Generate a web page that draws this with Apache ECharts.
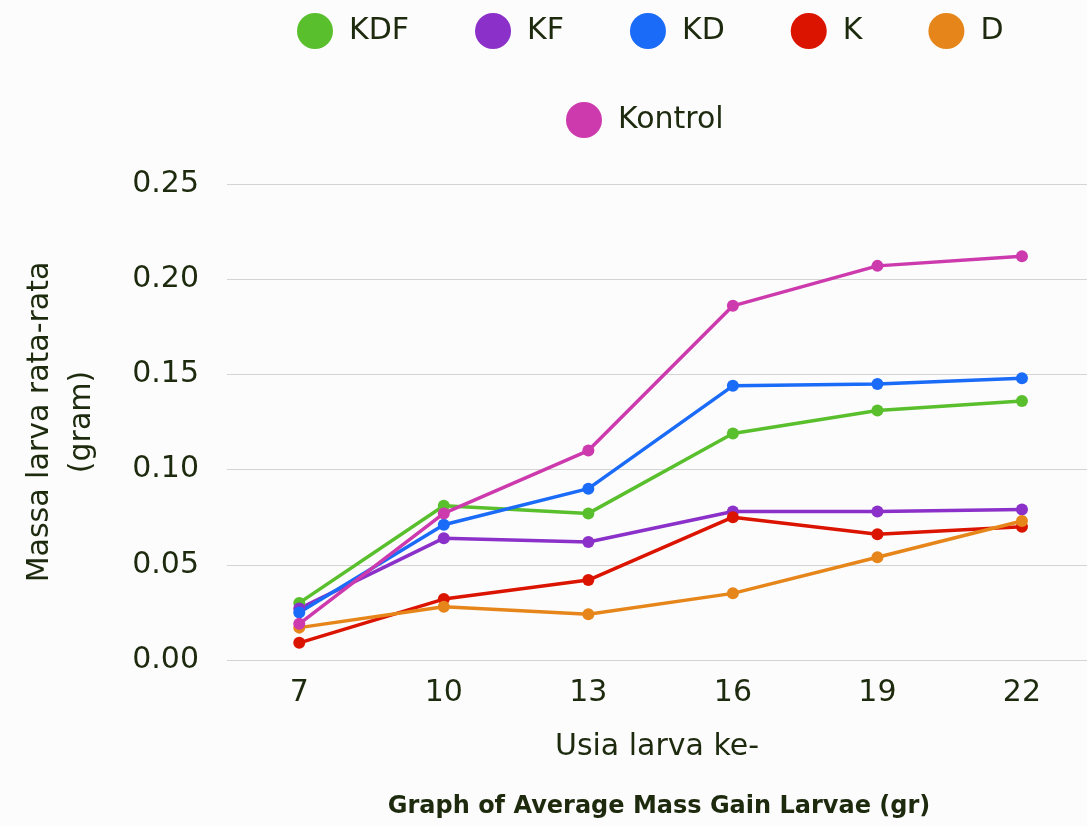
<!DOCTYPE html>
<html><head><meta charset="utf-8">
<script src="https://cdn.jsdelivr.net/npm/echarts@6/dist/echarts.min.js"></script>
<style>html,body{margin:0;padding:0;background:#fcfcfc}#c{width:1087px;height:826px}</style>
</head><body><div id="c"></div>
<script>
const categories = [7, 10, 13, 16, 19, 22];
const yTicks = [0, 0.05, 0.10, 0.15, 0.20, 0.25];
const seriesNames = ['KDF','KF','KD','K','D','Kontrol'];
const KDF = [0.030, 0.081, 0.077, 0.119, 0.131, 0.136];
const KF = [0.027, 0.064, 0.062, 0.078, 0.078, 0.079];
const KD = [0.025, 0.071, 0.090, 0.144, 0.145, 0.148];
const K = [0.009, 0.032, 0.042, 0.075, 0.066, 0.070];
const D = [0.017, 0.028, 0.024, 0.035, 0.054, 0.073];
const Kontrol = [0.019, 0.077, 0.110, 0.186, 0.207, 0.212];
const colors = ['#59bf2c', '#8b30c8', '#1a6bf7', '#db1400', '#e6861a', '#cc3aad'];
const values = [KDF, KF, KD, K, D, Kontrol];
const txt = '#1d2a0e';
const font = 'DejaVu Sans';

const chart = echarts.init(document.getElementById('c'));
const legendStyle = {
  icon: 'circle', itemWidth: 36, itemHeight: 36, itemGap: 66, padding: 0,
  textStyle: {fontSize: 30, color: txt, fontFamily: font, padding: [0,0,0,11]}
};
chart.setOption({
  backgroundColor: '#fcfcfc',
  color: colors,
  title: {
    text: 'Graph of Average Mass Gain Larvae (gr)',
    left: 654, top: 790, textAlign: 'center',
    textStyle: {fontSize: 24, fontWeight: 'bold', color: txt, fontFamily: font}
  },
  legend: [
    Object.assign({data: seriesNames.slice(0,5), left: 297, top: 13}, legendStyle),
    Object.assign({data: seriesNames.slice(5), left: 566, top: 102}, legendStyle)
  ],
  grid: {left: 227, right: 0, top: 184, bottom: 166},
  xAxis: {
    type: 'value', min: 5.5, max: 23.35,
    name: 'Usia larva ke-', nameLocation: 'middle', nameGap: 72,
    nameTextStyle: {fontSize: 30, color: txt, fontFamily: font},
    axisLine: {show: false}, axisTick: {show: false}, splitLine: {show: false},
    axisLabel: {fontSize: 30, color: txt, fontFamily: font, margin: 18,
      customValues: categories, showMinLabel: true, showMaxLabel: true}
  },
  yAxis: {
    type: 'value', min: 0, max: 0.25, interval: 0.05,
    name: 'Massa larva rata-rata\n(gram)', nameLocation: 'middle', nameGap: 124,
    nameTextStyle: {fontSize: 30, color: txt, fontFamily: font, lineHeight: 42, align: 'center'},
    axisLine: {show: false}, axisTick: {show: false},
    axisLabel: {fontSize: 30, color: txt, fontFamily: font, margin: 28,
      formatter: v => v.toFixed(2)},
    splitLine: {lineStyle: {color: '#d4d4d4', width: 1}}
  },
  series: seriesNames.map((n, i) => ({
    name: n, type: 'line', data: values[i].map((v, j) => [categories[j], v]),
    symbol: 'circle', symbolSize: 12,
    lineStyle: {width: 3.5}, itemStyle: {color: colors[i]},
    emphasis: {disabled: true}, animation: false
  })),
  animation: false
});
</script></body></html>
